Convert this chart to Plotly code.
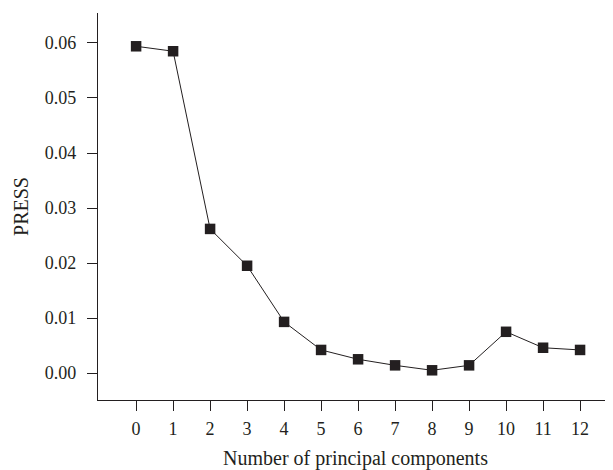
import plotly.graph_objects as go

components = [0, 1, 2, 3, 4, 5, 6, 7, 8, 9, 10, 11, 12]
press = [0.0594, 0.0585, 0.0262, 0.0195, 0.0093, 0.0042, 0.0025, 0.0014, 0.0005, 0.0014, 0.0075, 0.0046, 0.0042]
y_ticks = [0.00, 0.01, 0.02, 0.03, 0.04, 0.05, 0.06]
y_tick_labels = ["0.00", "0.01", "0.02", "0.03", "0.04", "0.05", "0.06"]

ink = "#231f20"
tick_font = dict(family="Liberation Serif, Times New Roman, serif", size=18, color=ink)
title_font = dict(family="Liberation Serif, Times New Roman, serif", size=20, color=ink)

fig = go.Figure()
fig.add_trace(go.Scatter(
    x=components, y=press, mode="lines+markers",
    line=dict(color=ink, width=1),
    marker=dict(symbol="square", size=10.5, color=ink),
    showlegend=False,
))

fig.update_layout(
    width=605, height=462,
    margin=dict(l=90, r=0, t=5, b=70),
    paper_bgcolor="white", plot_bgcolor="white",
    font=tick_font,
    xaxis=dict(
        range=[-1.03, 12.89], tickmode="array", tickvals=components,
        ticktext=[str(c) for c in components], tickfont=tick_font,
        ticklabelstandoff=2,
        showgrid=False, zeroline=False, showline=True, linecolor=ink, linewidth=1.3,
        ticks="outside", ticklen=10, tickcolor=ink, tickwidth=1.3,
        title=dict(text="Number of principal components", standoff=16, font=title_font),
    ),
    yaxis=dict(
        range=[-0.0049, 0.06545], tickmode="array", tickvals=y_ticks, ticktext=y_tick_labels,
        tickfont=tick_font, ticklabelstandoff=7,
        showgrid=False, zeroline=False, showline=True, linecolor=ink, linewidth=1.3,
        ticks="outside", ticklen=10, tickcolor=ink, tickwidth=1.3,
        title=dict(text="PRESS", standoff=10, font=title_font),
    ),
)

fig.write_html("out.html")
